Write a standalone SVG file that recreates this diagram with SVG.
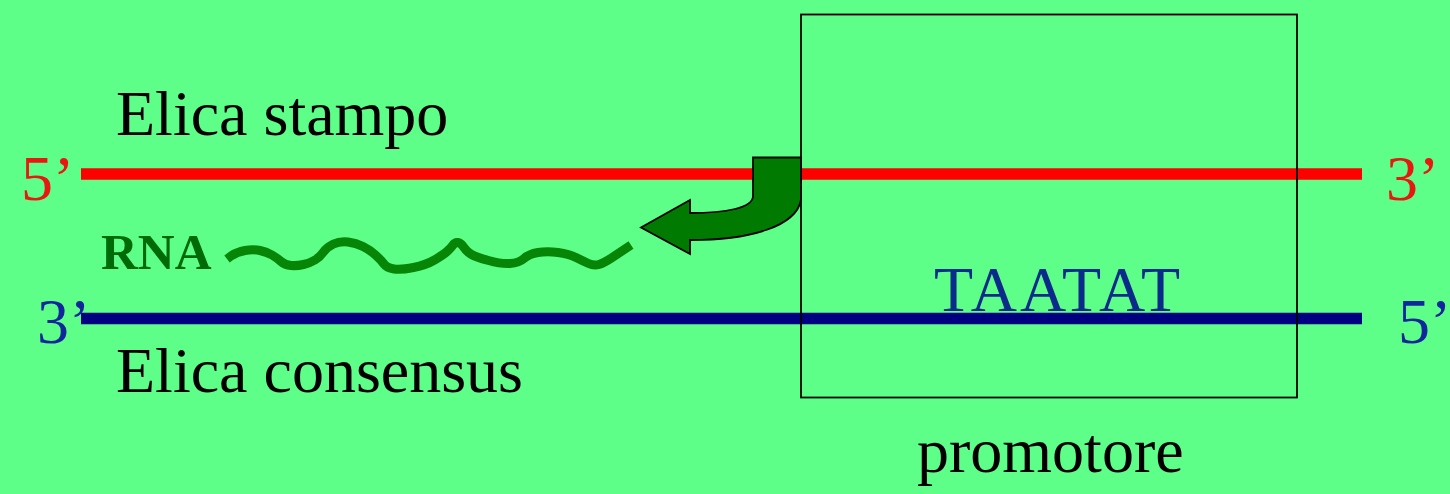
<svg xmlns="http://www.w3.org/2000/svg" width="1450" height="494" viewBox="0 0 1450 494">
<style>
.t{font-family:"Liberation Serif","Times New Roman",serif;font-size:64px}
.red{fill:#E8170F}
.blu{fill:#12269C}
</style>
<rect width="1450" height="494" fill="#5EFF88"/>
<g id="strand-stampo">
<line x1="81" y1="174" x2="1362" y2="174" stroke="#FF0000" stroke-width="11.5"/>
<text class="t" x="116" y="135">Elica stampo</text>
<text class="t red" x="21" y="200">5’</text>
<text class="t red" x="1386" y="200">3’</text>
</g>
<g id="strand-consensus">
<line x1="81" y1="318.5" x2="1362" y2="318.5" stroke="#000080" stroke-width="11.5"/>
<text class="t" x="116" y="392">Elica consensus</text>
<text class="t blu" x="37" y="343">3’</text>
<text class="t blu" x="1398" y="343">5’</text>
<text class="t" x="934" y="311" font-size="63" fill="#0B2A8A" textLength="246" lengthAdjust="spacing">TAATAT</text>
</g>
<g id="promotore">
<rect x="801" y="14.5" width="496" height="383" fill="none" stroke="#000" stroke-width="1.8"/>
<text class="t" x="917" y="472">promotore</text>
</g>
<g id="rna">
<text x="101" y="269" font-family="'Liberation Serif','Times New Roman',serif" font-size="51" font-weight="bold" fill="#006A08">RNA</text>
<path fill="none" stroke="#078507" stroke-width="9" stroke-linejoin="round" d="M227,259 L231,256 Q237,252 245,250.5 Q253,249 260,250.5 Q267,252 272,255 Q277,258 281,261.5 Q285,265 291,265.5 Q297,266 303.5,264.5 Q310,263 315,260 Q320,257 323.5,252 Q327,247 333.5,244 Q340,241 348,242 Q356,243 363,246.5 Q370,250 375.5,255 Q381,260 384,264 Q387,268 394,269 Q401,270 413.5,267.5 Q426,265 434.5,260 Q443,255 447,251.5 Q451,248 453,245 Q455,242 458,242.5 Q461,243 464,247.5 Q467,252 471.5,254.5 Q476,257 488.5,260.5 Q501,264 510,263.5 Q519,263 524,258.5 Q529,254 538,252.5 Q547,251 558,252.5 Q569,254 576,257.5 Q583,261 588.5,263.5 Q594,266 599,264.5 Q604,263 613,257 L631,245"/>
</g>
<g id="connectors">
<path d="M753,157.5 L801,157.5 L801,200 C796,226 752,240 690,240 L690,254 L641,227.5 L690,200 L690,213 C726,213 753,208 753,196 Z" fill="#007A00" stroke="#000" stroke-width="1.8" stroke-linejoin="miter"/>
</g>
</svg>
